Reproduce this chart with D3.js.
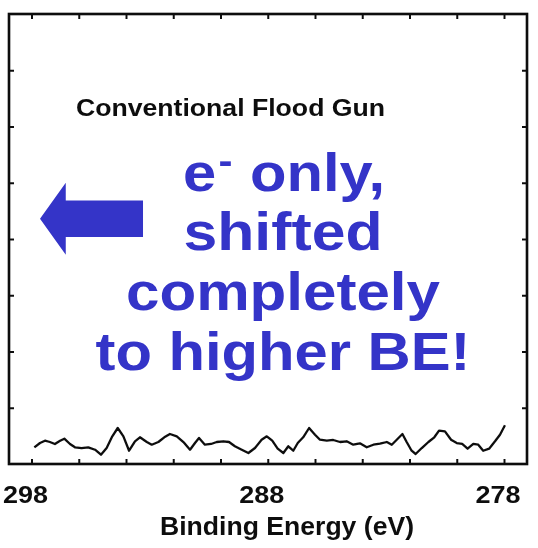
<!DOCTYPE html>
<html>
<head>
<meta charset="utf-8">
<script src="https://cdn.jsdelivr.net/npm/d3@7"></script>
<style>
  html, body { margin: 0; padding: 0; background: #fff; }
  svg { display: block; }
</style>
</head>
<body>
<svg id="chart" width="538" height="548"></svg>
<script>
// C 1s region recorded with the conventional flood gun (electrons only)
const bindingEnergy = [
  297.88, 297.64, 297.43, 297.22, 297.01, 296.79, 296.61, 296.37, 296.16, 295.88,
  295.60, 295.31, 295.06, 294.82, 294.58, 294.35, 294.11, 293.87, 293.62, 293.41,
  293.12, 292.91, 292.63, 292.38, 292.14, 291.85, 291.57, 291.29, 291.08, 290.91,
  290.66, 290.40, 290.16, 289.88, 289.64, 289.39, 289.10, 288.82, 288.54, 288.26,
  288.04, 287.81, 287.58, 287.34, 287.13, 286.92, 286.73, 286.50, 286.25, 286.00,
  285.79, 285.50, 285.23, 284.94, 284.66, 284.38, 284.10, 283.81, 283.53, 283.25,
  282.96, 282.75, 282.54, 282.30, 282.12, 281.91, 281.74, 281.48, 281.20, 280.95,
  280.75, 280.50, 280.24, 280.00, 279.77, 279.54, 279.30, 279.09, 278.88, 278.63,
  278.38, 278.17, 277.96
];
const intensity = [
  0.297, 0.373, 0.414, 0.391, 0.356, 0.414, 0.450, 0.356, 0.297, 0.284,
  0.297, 0.254, 0.165, 0.284, 0.492, 0.640, 0.492, 0.236, 0.404, 0.475,
  0.391, 0.343, 0.391, 0.475, 0.533, 0.492, 0.391, 0.254, 0.373, 0.462,
  0.343, 0.356, 0.391, 0.404, 0.391, 0.315, 0.254, 0.196, 0.284, 0.432,
  0.492, 0.414, 0.272, 0.196, 0.315, 0.236, 0.373, 0.475, 0.640, 0.521,
  0.432, 0.414, 0.427, 0.391, 0.404, 0.343, 0.368, 0.297, 0.343, 0.361,
  0.391, 0.343, 0.432, 0.533, 0.391, 0.236, 0.178, 0.284, 0.391, 0.475,
  0.592, 0.581, 0.432, 0.373, 0.356, 0.272, 0.356, 0.343, 0.236, 0.272,
  0.404, 0.521, 0.688
];
const xTickValues = [298, 296, 294, 292, 290, 288, 286, 284, 282, 280, 278];
const xTickLabels = [298, 288, 278];
const yTickValues = [1, 2, 3, 4, 5, 6, 7];

const titleText = "Conventional Flood Gun";
const axisTitle = "Binding Energy (eV)";
const noteLines = ["shifted", "completely", "to higher BE!"];
const noteWidths = [199, 314, 375];

const ink = "#101010";
const blue = "#3434c8";

const svg = d3.select("#chart");
const frame = { left: 9, right: 527, top: 14, bottom: 464 };

// Binding energy runs right-to-left, as usual for XPS
const x = d3.scaleLinear().domain([298, 278]).range([31.5, 504]);
const y = d3.scaleLinear().domain([0, 8]).range([frame.bottom, frame.top]);

const soft = svg.append("defs").append("filter").attr("id", "soft")
  .attr("x", "-5%").attr("y", "-5%").attr("width", "110%").attr("height", "110%");
soft.append("feGaussianBlur").attr("stdDeviation", 0.45);

const plot = svg.append("g").attr("filter", "url(#soft)");

// Inward ticks on all four sides
function styleAxis(g) {
  g.select(".domain").remove();
  g.selectAll(".tick line").attr("stroke", ink).attr("stroke-width", 2);
  g.selectAll(".tick text").remove();
}
plot.append("g").attr("transform", `translate(0,${frame.bottom})`)
  .call(d3.axisBottom(x).tickValues(xTickValues).tickSize(-5).tickFormat(""))
  .call(styleAxis);
plot.append("g").attr("transform", `translate(0,${frame.top})`)
  .call(d3.axisTop(x).tickValues(xTickValues).tickSize(-5).tickFormat(""))
  .call(styleAxis);
plot.append("g").attr("transform", `translate(${frame.left},0)`)
  .call(d3.axisLeft(y).tickValues(yTickValues).tickSize(-5).tickFormat(""))
  .call(styleAxis);
plot.append("g").attr("transform", `translate(${frame.right},0)`)
  .call(d3.axisRight(y).tickValues(yTickValues).tickSize(-5).tickFormat(""))
  .call(styleAxis);

// Plot frame
plot.append("rect")
  .attr("x", frame.left).attr("y", frame.top)
  .attr("width", frame.right - frame.left).attr("height", frame.bottom - frame.top)
  .attr("fill", "none").attr("stroke", ink).attr("stroke-width", 2.6);

// Spectrum trace
const line = d3.line()
  .x((d, i) => x(bindingEnergy[i]))
  .y(d => y(d));
plot.append("path")
  .datum(intensity)
  .attr("d", line)
  .attr("fill", "none")
  .attr("stroke", ink)
  .attr("stroke-width", 2.3)
  .attr("stroke-linejoin", "round");

// Tick labels
plot.selectAll("text.xlabel")
  .data(xTickLabels)
  .join("text")
  .attr("class", "xlabel")
  .attr("x", d => x(d) - 6)
  .attr("y", 503)
  .attr("text-anchor", "middle")
  .attr("font-family", "Liberation Sans, Arial, sans-serif")
  .attr("font-weight", "bold")
  .attr("font-size", 24)
  .attr("textLength", 45)
  .attr("lengthAdjust", "spacingAndGlyphs")
  .attr("fill", ink)
  .text(d => d);

// Axis title
plot.append("text")
  .attr("x", 287).attr("y", 535)
  .attr("text-anchor", "middle")
  .attr("font-family", "Liberation Sans, Arial, sans-serif")
  .attr("font-weight", "bold")
  .attr("font-size", 25)
  .attr("textLength", 254)
  .attr("lengthAdjust", "spacingAndGlyphs")
  .attr("fill", ink)
  .text(axisTitle);

// Panel title
plot.append("text")
  .attr("x", 76).attr("y", 116)
  .attr("font-family", "Liberation Sans, Arial, sans-serif")
  .attr("font-weight", "bold")
  .attr("font-size", 24)
  .attr("textLength", 309)
  .attr("lengthAdjust", "spacingAndGlyphs")
  .attr("fill", ink)
  .text(titleText);

// Annotation: arrow pointing toward higher binding energy
const arrow = { tip: 297.64, neck: 296.55, tail: 293.28, mid: 4.36, shaftHalf: 0.325, headHalf: 0.64 };
const arrowPts = [
  [x(arrow.tip), y(arrow.mid)],
  [x(arrow.neck), y(arrow.mid + arrow.headHalf)],
  [x(arrow.neck), y(arrow.mid + arrow.shaftHalf)],
  [x(arrow.tail), y(arrow.mid + arrow.shaftHalf)],
  [x(arrow.tail), y(arrow.mid - arrow.shaftHalf)],
  [x(arrow.neck), y(arrow.mid - arrow.shaftHalf)],
  [x(arrow.neck), y(arrow.mid - arrow.headHalf)]
];
svg.append("path")
  .attr("d", "M" + arrowPts.map(p => p.join(",")).join("L") + "Z")
  .attr("fill", blue);

// Annotation text, slightly narrower type stretched to the set widths
const note = svg.append("g")
  .attr("font-family", "Liberation Sans, Arial, sans-serif")
  .attr("font-weight", "bold")
  .attr("font-size", 54)
  .attr("fill", blue)
  .attr("text-anchor", "middle");

const first = note.append("text").attr("x", 284).attr("y", 191)
  .attr("textLength", 202)
  .attr("lengthAdjust", "spacingAndGlyphs");
first.append("tspan").text("e");
first.append("tspan").attr("font-size", 38).attr("dy", -17).attr("dx", 2).text("-");
first.append("tspan").attr("dy", 17).attr("dx", 1).text(" only,");

note.selectAll("text.line")
  .data(noteLines)
  .join("text")
  .attr("class", "line")
  .attr("x", 283)
  .attr("y", (d, i) => 250 + i * 60)
  .attr("textLength", (d, i) => noteWidths[i])
  .attr("lengthAdjust", "spacingAndGlyphs")
  .text(d => d);
</script>
</body>
</html>
